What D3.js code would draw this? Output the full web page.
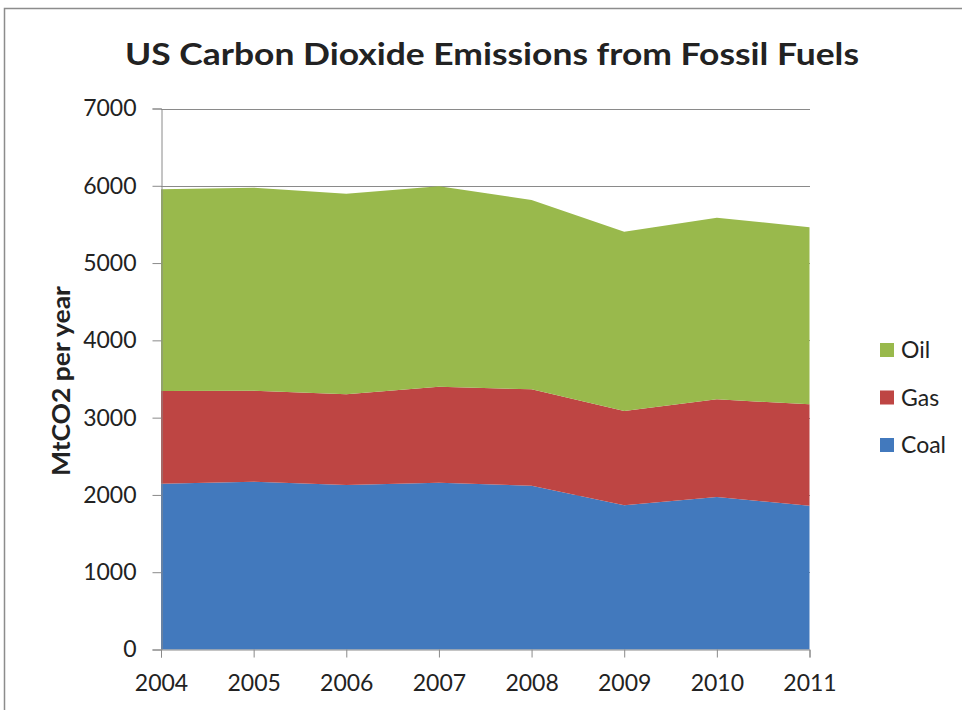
<!DOCTYPE html>
<html>
<head>
<meta charset="utf-8">
<script src="https://cdn.jsdelivr.net/npm/d3@7"></script>
<style>
  html, body { margin: 0; padding: 0; background: #fff; }
  svg { display: block; }
  text { font-family: Lato, "Open Sans", sans-serif; fill: #222; }
</style>
</head>
<body>
<svg id="chart" width="962" height="710"></svg>
<script>
const years = [2004, 2005, 2006, 2007, 2008, 2009, 2010, 2011];
const coal = [2145, 2171, 2128, 2158, 2119, 1866, 1973, 1861];
const gas = [1200, 1178, 1174, 1242, 1248, 1220, 1264, 1311];
const oil = [2609, 2626, 2595, 2593, 2449, 2320, 2350, 2291];
const seriesNames = ["Coal", "Gas", "Oil"];
const colors = { Coal: "#4279bd", Gas: "#be4543", Oil: "#99b94c" };
const yTicks = [0, 1000, 2000, 3000, 4000, 5000, 6000, 7000];

const svg = d3.select("#chart");

// outer frame of the chart object
svg.append("path")
  .attr("d", "M4.5,710 V8.5 H962")
  .attr("fill", "none")
  .attr("stroke", "#8c8c8c")
  .attr("stroke-width", 1.5);

const x = d3.scaleLinear().domain([2004, 2011]).range([161, 809.5]);
const y = d3.scaleLinear().domain([0, 7000]).range([649.5, 108.5]);

const rows = years.map((yr, i) => ({ year: yr, Coal: coal[i], Gas: gas[i], Oil: oil[i] }));
const stacked = d3.stack().keys(seriesNames)(rows);

// gridlines
svg.append("g")
  .selectAll("line")
  .data(yTicks.filter((d) => d > 0))
  .join("line")
  .attr("x1", 161)
  .attr("x2", 810)
  .attr("y1", (d) => Math.round(y(d)) + 0.5)
  .attr("y2", (d) => Math.round(y(d)) + 0.5)
  .attr("stroke", "#8a8a8a")
  .attr("stroke-width", 1);

const area = d3.area()
  .x((d) => x(d.data.year))
  .y0((d) => y(d[0]))
  .y1((d) => y(d[1]));

svg.append("g")
  .selectAll("path")
  .data(stacked)
  .join("path")
  .attr("fill", (d) => colors[d.key])
  .attr("d", area);

// y axis
const yAxis = svg.append("g")
  .attr("transform", "translate(161.5,0)")
  .call(d3.axisLeft(y).tickValues(yTicks).tickSize(9).tickPadding(16).tickFormat(d3.format("d")));
yAxis.select(".domain").attr("stroke", "#8a8a8a");
yAxis.selectAll(".tick line").attr("stroke", "#8a8a8a");
yAxis.selectAll(".tick text")
  .attr("font-size", 23)
  .attr("font-family", "Lato, sans-serif")
  .attr("fill", "#222");

// x axis
const xAxis = svg.append("g")
  .attr("transform", "translate(0,649.5)")
  .call(d3.axisBottom(x).tickValues(years).tickSize(8).tickPadding(17).tickFormat(d3.format("d")));
xAxis.select(".domain").attr("stroke", "#8a8a8a");
xAxis.selectAll(".tick line").attr("stroke", "#8a8a8a");
xAxis.selectAll(".tick text")
  .attr("font-size", 23)
  .attr("font-family", "Lato, sans-serif")
  .attr("fill", "#222");

// title
svg.append("text")
  .attr("x", 492)
  .attr("y", 65)
  .attr("text-anchor", "middle")
  .attr("font-size", 31)
  .attr("font-weight", "bold")
  .attr("textLength", 734)
  .attr("lengthAdjust", "spacingAndGlyphs")
  .text("US Carbon Dioxide Emissions from Fossil Fuels");

// y label
svg.append("text")
  .attr("transform", "translate(70,381) rotate(-90)")
  .attr("text-anchor", "middle")
  .attr("font-size", 25)
  .attr("font-weight", "bold")
  .attr("textLength", 190)
  .attr("lengthAdjust", "spacingAndGlyphs")
  .text("MtCO2 per year");

// legend
const legend = svg.append("g")
  .selectAll("g")
  .data(seriesNames.slice().reverse())
  .join("g")
  .attr("transform", (d, i) => `translate(880,${343 + i * 47.5})`);
legend.append("rect")
  .attr("width", 14)
  .attr("height", 14)
  .attr("fill", (d) => colors[d]);
legend.append("text")
  .attr("x", 21)
  .attr("y", 15)
  .attr("font-size", 23)
  .text((d) => d);
</script>
</body>
</html>
